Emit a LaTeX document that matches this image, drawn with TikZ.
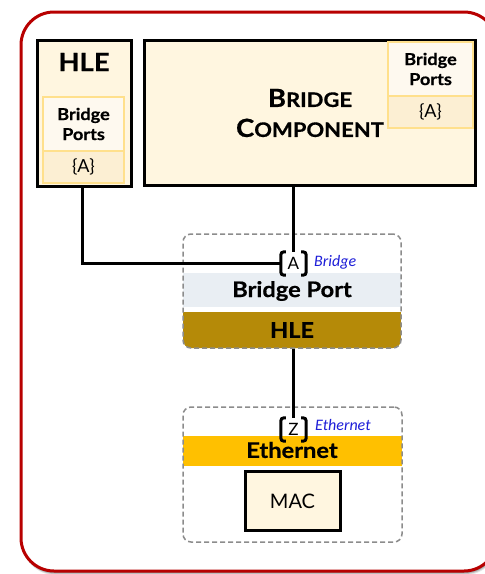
\documentclass[tikz,border=0pt]{standalone}
\usepackage{fontspec}
\setmainfont{Lato}[BoldFeatures={FakeStretch=1.1, FakeBold=0.6}]
\newfontfamily\tagfont{Carlito}
\usetikzlibrary{calc}

\definecolor{framered}{HTML}{B80000}
\definecolor{cream}{HTML}{FFF6E0}
\definecolor{portlight}{HTML}{FEF9EF}
\definecolor{portdark}{HTML}{FCEFD3}
\definecolor{portedge}{HTML}{FFE08C}
\definecolor{portband}{HTML}{E9EEF3}
\definecolor{hleband}{HTML}{B58A08}
\definecolor{ethband}{HTML}{FFC000}
\definecolor{dashgray}{HTML}{8C8C8C}
\definecolor{tagblue}{HTML}{1E1ED8}

\tikzset{
  fs/.style={font=\fontsize{#1}{#1}\selectfont},
  block/.style={draw=black, line width=3pt, fill=cream, inner sep=0pt},
  portcell/.style={draw=portedge, line width=1.2pt, inner sep=0pt, align=center},
  group/.style={draw=dashgray, line width=1.5pt, dash pattern=on 5pt off 3pt, rounded corners=8pt},
  band/.style={inner sep=0pt, font=\bfseries\fontsize{21.5}{24}\selectfont},
  wire/.style={line width=3pt},
  bracket/.style={line width=3pt, rounded corners=3pt},
  porttag/.style={minimum width=25pt, minimum height=23pt, inner sep=0pt, fs=17},
  typetag/.style={text=tagblue, anchor=west, inner sep=0pt, font=\tagfont\itshape\fontsize{16}{18}\selectfont},
}

\begin{document}
\begin{tikzpicture}[x=1pt, y=-1pt]
  \useasboundingbox (0,0) rectangle (485,574);
  \clip (0,0) rectangle (485,574);

  % outer frame with a soft shadow underneath; its right side runs past the edge
  \foreach \d/\o in {4/0.10, 3/0.15, 2/0.2} {
    \fill[black, opacity=\o, rounded corners=33pt] (21+\d*0.3,12+\d) rectangle (497+\d*0.3,571+\d);
  }
  \draw[framered, line width=3pt, fill=white, rounded corners=33pt] (21,12) rectangle (497,571);

  % higher layer entity with its bridge ports
  \node[block, minimum width=94pt, minimum height=146pt] (hle) at (84,113) {};
  \node[font=\bfseries\fontsize{25}{28}\selectfont] (hleTitle) at (84,62) {HLE};
  \node[portcell, fill=portlight, minimum width=81pt, minimum height=54pt,
        font=\bfseries\fontsize{16.5}{20}\selectfont] (hlePorts) at (83.5,124) {Bridge\\Ports};
  \node[portcell, fill=portdark, minimum width=81pt, minimum height=32pt, fs=18] (hleSet) at (83.5,167) {\{A\}};

  % bridge component with its bridge ports
  \node[block, minimum width=331pt, minimum height=145pt] (bc) at (309.5,112.5) {};
  \node[align=center, font=\bfseries\fontsize{25}{30}\selectfont, inner sep=0pt] (bcTitle) at (310,113)
    {B{\fontsize{20}{30}\selectfont RIDGE}\\
     C{\fontsize{20}{30}\selectfont OMPONENT}};
  \node[portcell, fill=portlight, minimum width=85pt, minimum height=54pt,
        font=\bfseries\fontsize{16.5}{20}\selectfont] (bcPorts) at (430.5,69) {Bridge\\Ports};
  \node[portcell, fill=portdark, minimum width=85pt, minimum height=32pt, fs=18] (bcSet) at (430.5,112) {\{A\}};

  % bridge port group
  \begin{scope}
    \clip[rounded corners=8pt] (183,234) rectangle (401,348);
    \fill[portband] (183,273) rectangle (401,307);
    \fill[hleband] (183,312) rectangle (401,349);
  \end{scope}
  \node[group, minimum width=218pt, minimum height=114pt] (bpGroup) at (292,291) {};
  \node[band] (bpBand) at (292,291) {Bridge Port};
  \node[band] (hleBand) at (292,330) {HLE};
  \node[porttag] (portA) at (293.5,263.5) {A};
  \node[typetag] (typeA) at (314,262) {Bridge};

  % ethernet group
  \begin{scope}
    \clip[rounded corners=8pt] (183,407) rectangle (402,542);
    \fill[ethband] (183,436) rectangle (402,466);
  \end{scope}
  \node[group, minimum width=219pt, minimum height=135pt] (ethGroup) at (292.5,474.5) {};
  \node[band] (ethBand) at (292,450) {Ethernet};
  \node[porttag] (portZ) at (293.5,429.5) {Z};
  \node[typetag] (typeZ) at (315,425) {Ethernet};
  \node[block, minimum width=95pt, minimum height=59pt, fs=20] (mac) at (292.5,501) {MAC};

  % port brackets
  \foreach \p in {portA, portZ} {
    \draw[bracket] ($(\p.north west)+(5,0)$) -- (\p.north west) -- (\p.south west) -- ++(5,0);
    \draw[bracket] ($(\p.north east)+(-5,0)$) -- (\p.north east) -- (\p.south east) -- ++(-5,0);
  }

  % connectors
  \coordinate (hleOut) at ($(hle.south)+(-2,0)$);
  \draw[wire] (hleOut) |- (portA.west);
  \draw[wire] (portA.north |- bc.south) -- (portA.north);
  \draw[wire] (portA.north |- bpGroup.south) -- (portZ.north);
\end{tikzpicture}
\end{document}
